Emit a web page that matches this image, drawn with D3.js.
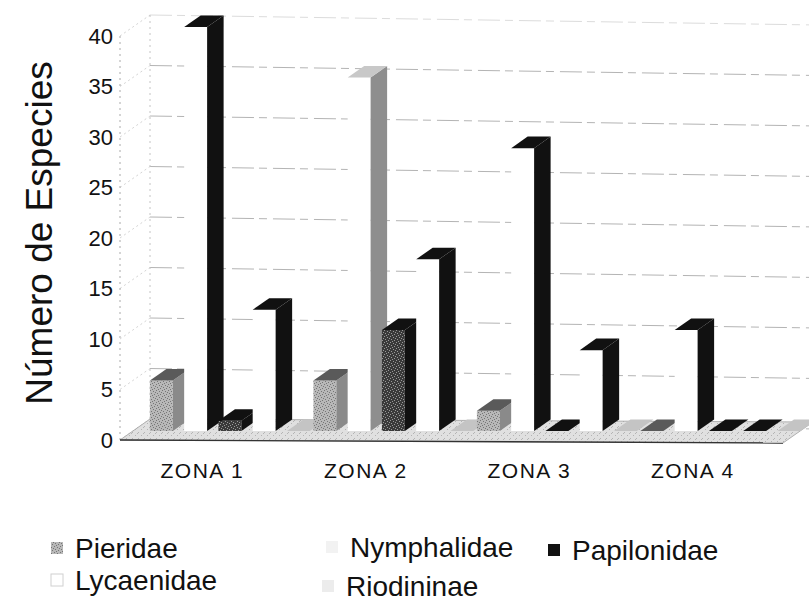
<!DOCTYPE html>
<html>
<head>
<meta charset="utf-8">
<script src="https://cdn.jsdelivr.net/npm/d3@7"></script>
<style>
  body { margin: 0; background: #fff; }
  text { font-family: "Liberation Sans", Arial, sans-serif; fill: #111; }
</style>
</head>
<body>
<div id="chart"></div>
<script>
// data
const zones = ["ZONA 1", "ZONA 2", "ZONA 3", "ZONA 4"];
const seriesNames = ["Pieridae", "Nymphalidae", "Papilonidae", "Lycaenidae", "Riodininae"];
const pieridae    = [5, 5, 2, 0];
const nymphalidae = [40, 35, 28, 10];
const papilonidae = [1, 10, 0, 0];
const lycaenidae  = [12, 17, 8, 0];
const riodininae  = [0, 0, 0, 0];
const yTicks = [0, 5, 10, 15, 20, 25, 30, 35, 40];

const values = [pieridae, nymphalidae, papilonidae, lycaenidae, riodininae];

const width = 809, height = 603;

const svg = d3.select("#chart").append("svg")
    .attr("width", width)
    .attr("height", height);

// speckle textures like the scanned print
const defs = svg.append("defs");
function speckle(id, base, dot, dots) {
    const p = defs.append("pattern")
        .attr("id", id)
        .attr("width", 6).attr("height", 6)
        .attr("patternUnits", "userSpaceOnUse");
    p.append("rect").attr("width", 6).attr("height", 6).attr("fill", base);
    dots.forEach(function (d) {
        p.append("rect").attr("x", d[0]).attr("y", d[1])
            .attr("width", 1).attr("height", 1).attr("fill", dot);
    });
}
const dotsA = [[0,0],[3,1],[1,3],[4,4],[5,2],[2,5]];
speckle("pierFront", "#b8b8b8", "#767676", dotsA);
speckle("papFront", "#3a3a3a", "#9a9a9a", dotsA);
speckle("floorFill", "#e0e0e0", "#b4b4b4", [[0,0],[3,3],[5,1]]);

const styles = {
    "Pieridae":    { front: "url(#pierFront)", top: "#5a5a5a", side: "#8a8a8a" },
    "Nymphalidae": { front: "#ffffff", top: "#111", side: "#111" },
    "Papilonidae": { front: "url(#papFront)", top: "#111", side: "#111" },
    "Lycaenidae":  { front: "#ffffff", top: "#111", side: "#111" },
    "Riodininae":  { front: "#d6d6d6", top: "#c4c4c4", side: "#bcbcbc" }
};

// scales
const y = d3.scaleLinear().domain([0, 40]).range([440, 36]);
const x0 = d3.scaleBand().domain(zones).range([137, 791]);
const x1 = d3.scaleBand().domain(seriesNames).range([0, 160]).paddingInner(0.33);

// oblique depth
const DX = 30, DY = -21;
const d0 = 0.43, d1 = 0.98;
function pt(x, v, d) { return [x + d * DX, y(v) + d * DY]; }
function poly(points) { return points.map(p => p.join(",")).join(" "); }
const slope = 0.015;

// gridlines on back and side wall
yTicks.forEach(function (v) {
    const yb = y(v) + DY;
    svg.append("line")
        .attr("x1", 150).attr("y1", yb)
        .attr("x2", 813).attr("y2", yb + (813 - 150) * slope)
        .attr("stroke", v === 40 ? "#dcdcdc" : "#b4b4b4")
        .attr("stroke-width", 1)
        .attr("stroke-dasharray", "22,5,8,6");
    svg.append("line")
        .attr("x1", 120).attr("y1", y(v))
        .attr("x2", 150).attr("y2", yb)
        .attr("stroke", "#d4d4d4")
        .attr("stroke-dasharray", "2,3");
});

svg.append("line")
    .attr("x1", 120).attr("y1", y(0)).attr("x2", 120).attr("y2", y(40))
    .attr("stroke", "#aaa").attr("stroke-dasharray", "2,4");
svg.append("line")
    .attr("x1", 150).attr("y1", y(0) + DY).attr("x2", 150).attr("y2", y(40) + DY)
    .attr("stroke", "#c4c4c4").attr("stroke-dasharray", "2,4");

// floor
svg.append("polygon")
    .attr("points", poly([[120, y(0)], [783, y(0) + 3], [813, y(0) + DY + 3], [150, y(0) + DY]]))
    .attr("fill", "url(#floorFill)")
    .attr("stroke", "#a0a0a0")
    .attr("stroke-width", 0.8);
svg.append("line")
    .attr("x1", 120).attr("y1", y(0)).attr("x2", 783).attr("y2", y(0) + 3)
    .attr("stroke", "#333").attr("stroke-width", 1.3);

// bars
const bars = svg.append("g");
zones.forEach(function (z, zi) {
    seriesNames.forEach(function (s, si) {
        const v = values[si][zi];
        const xl = x0(z) + x1(s);
        const xr = xl + x1.bandwidth();
        const st = styles[s];
        const g = bars.append("g");
        // zone 2 nymphalidae came out grey in the print
        let sideFill = st.side;
        let topFill = st.top;
        if (s === "Nymphalidae" && zi === 1) { sideFill = "#8e8e8e"; topFill = "#c8c8c8"; }
        if (v > 0) {
            g.append("polygon")
                .attr("points", poly([pt(xl, 0, d0), pt(xr, 0, d0), pt(xr, v, d0), pt(xl, v, d0)]))
                .attr("fill", st.front);
            g.append("polygon")
                .attr("points", poly([pt(xr, 0, d0), pt(xr, 0, d1), pt(xr, v, d1), pt(xr, v, d0)]))
                .attr("fill", sideFill);
        }
        g.append("polygon")
            .attr("points", poly([pt(xl, v, d0), pt(xr, v, d0), pt(xr, v, d1), pt(xl, v, d1)]))
            .attr("fill", topFill);
    });
});

// y tick labels
svg.append("g").selectAll("text")
    .data(yTicks)
    .enter()
    .append("text")
    .attr("x", 113)
    .attr("y", d => y(d))
    .attr("dy", "0.36em")
    .attr("text-anchor", "end")
    .attr("font-size", 22)
    .text(d => d);

// axis title
svg.append("text")
    .attr("transform", "translate(52,233) rotate(-90)")
    .attr("text-anchor", "middle")
    .attr("font-size", 37)
    .text("Número de Especies");

// category labels
svg.append("g").selectAll("text")
    .data(zones)
    .enter()
    .append("text")
    .attr("x", d => x0(d) + x0.bandwidth() * 0.4)
    .attr("y", 478)
    .attr("text-anchor", "middle")
    .attr("font-size", 21)
    .attr("letter-spacing", 1.5)
    .text(d => d);

// legend
const legendPos = [[51, 558], [326, 557], [548, 560], [51, 590], [322, 596]];
const legendMarks = [
    { fill: "url(#pierFront)", stroke: "none" },
    { fill: "#f2f2f2", stroke: "none" },
    { fill: "#111", stroke: "none" },
    { fill: "#fff", stroke: "#d0d0d0" },
    { fill: "#ececec", stroke: "none" }
];
const legend = svg.append("g");
seriesNames.forEach(function (s, i) {
    const p = legendPos[i];
    legend.append("rect")
        .attr("x", p[0]).attr("y", p[1] - 16)
        .attr("width", 12).attr("height", 12)
        .attr("fill", legendMarks[i].fill)
        .attr("stroke", legendMarks[i].stroke);
    legend.append("text")
        .attr("x", p[0] + 24)
        .attr("y", p[1])
        .attr("font-size", 28)
        .text(s);
});
</script>
</body>
</html>
